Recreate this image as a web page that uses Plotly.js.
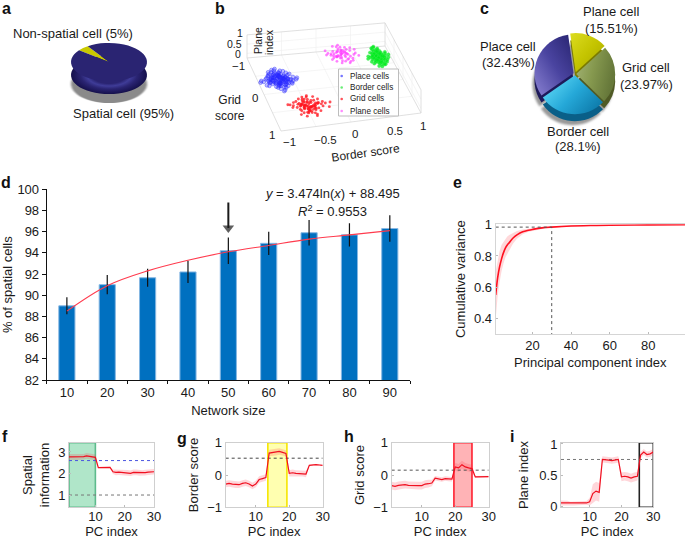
<!DOCTYPE html>
<html><head><meta charset="utf-8">
<script src="https://cdn.plot.ly/plotly-3.0.1.min.js"></script>
<style>html,body{margin:0;padding:0;background:#fff}</style></head>
<body><div id="chart" style="width:685px;height:539px"></div>
<script>
// ---------- panel a / c
const aLabels = ['Non-spatial cell', 'Spatial cell'];
const aValues = [5, 95];
const cLabels = ['Plane cell', 'Grid cell', 'Border cell', 'Place cell'];
const cValues = [15.51, 23.97, 28.1, 32.43];
// ---------- panel b (border score, grid score, plane index)
const placeBorder = [-0.73,-0.70,-0.78,-0.66,-0.82,-0.74,-0.69,-0.76,-0.62,-0.85,-0.72,-0.68,-0.80,-0.75,-0.64,-0.71,-0.88,-0.77,-0.60,-0.83,-0.67,-0.73,-0.79,-0.65,-0.91,-0.70,-0.56,-0.86,-0.74,-0.63,-0.81,-0.69,-0.95,-0.58,-0.76,-0.72,-0.84,-0.61,-0.78,-0.66,-0.89,-0.54,-0.71,-0.93,-0.75,-0.59,-0.82,-0.68,-0.98,-0.52,-0.77,-0.64,-0.87,-0.70,-0.57,-0.80,-0.73,-0.49,-1.0,-0.62,-0.85,-0.67,-0.75,-0.55,-0.90,-0.72,-0.47,-0.79,-0.65,-0.83,
 -0.71,-0.75,-0.68,-0.79,-0.65,-0.73,-0.77,-0.70,-0.63,-0.81,-0.74,-0.67,-0.72,-0.84,-0.60,-0.76,-0.69,-0.78,-0.66,-0.82,-0.71,-0.74,-0.62,-0.86,-0.70,-0.58,-0.77,-0.73,-0.64,-0.80,-0.68,-0.75,-0.61,-0.83,-0.72,-0.79,-0.66,-0.69,-0.57,-0.88];
const placeGrid = [-0.22,-0.28,-0.18,-0.25,-0.30,-0.12,-0.20,-0.34,-0.15,-0.24,-0.38,-0.08,-0.14,-0.26,-0.32,-0.30,-0.19,-0.06,-0.22,-0.40,-0.36,-0.16,-0.44,-0.10,-0.27,-0.02,-0.20,-0.35,-0.48,-0.28,-0.05,-0.42,-0.21,-0.33,0.02,-0.52,-0.13,-0.12,-0.37,-0.46,-0.30,-0.16,0.06,-0.11,-0.41,-0.39,-0.23,0.00,-0.24,-0.26,-0.50,-0.04,-0.17,-0.31,-0.09,-0.29,0.09,-0.19,-0.20,-0.44,-0.36,-0.07,-0.15,-0.35,-0.09,-0.33,-0.23,-0.02,-0.25,-0.45,
 -0.20,-0.26,-0.16,-0.22,-0.30,-0.12,-0.28,-0.34,-0.20,-0.18,-0.14,-0.24,-0.36,-0.26,-0.22,-0.10,-0.18,-0.30,-0.14,-0.22,-0.32,-0.06,-0.28,-0.18,-0.24,-0.20,-0.38,-0.12,-0.16,-0.32,-0.26,-0.08,-0.24,-0.28,-0.34,-0.14,-0.20,-0.40,-0.12,-0.22];
const gridBorder = [-0.52,-0.48,-0.56,-0.44,-0.60,-0.50,-0.46,-0.54,-0.40,-0.63,-0.49,-0.43,-0.58,-0.53,-0.37,-0.47,-0.66,-0.55,-0.35,-0.61,-0.42,-0.51,-0.57,-0.39,-0.70,-0.45,-0.31,-0.64,-0.52,-0.36,-0.59,-0.41,-0.74,-0.28,-0.54,-0.47,-0.62,-0.33,-0.56,-0.43,-0.68,-0.25,-0.50,-0.72,-0.38,-0.22,-0.60,-0.44,-0.77,-0.18,-0.53,-0.34,-0.65,-0.46,-0.30,-0.58,
 -0.50,-0.54,-0.47,-0.57,-0.44,-0.52,-0.49,-0.55,-0.42,-0.59,-0.51,-0.46,-0.56,-0.40,-0.53,-0.48,-0.61,-0.45,-0.38,-0.52,-0.50,-0.57,-0.43,-0.55,-0.47,-0.36,-0.63,-0.49,-0.41,-0.54];
const gridGrid = [0.55,0.50,0.60,0.47,0.52,0.66,0.58,0.44,0.56,0.62,0.70,0.42,0.48,0.53,0.64,0.38,0.56,0.72,0.50,0.46,0.68,0.36,0.59,0.42,0.50,0.76,0.54,0.40,0.62,0.72,0.34,0.58,0.47,0.48,0.74,0.31,0.66,0.40,0.52,0.80,0.42,0.53,0.60,0.55,0.32,0.64,0.72,0.84,0.46,0.52,0.30,0.50,0.76,0.28,0.60,0.82,
 0.56,0.52,0.60,0.48,0.58,0.64,0.44,0.54,0.62,0.50,0.68,0.46,0.56,0.52,0.42,0.60,0.54,0.66,0.50,0.70,0.46,0.62,0.56,0.40,0.58,0.52,0.48,0.74,0.64,0.36];
const planeBorder = [0.20,0.24,0.16,0.28,0.12,0.22,0.18,0.26,0.08,0.31,0.19,0.14,0.27,0.23,0.05,0.34,0.17,0.10,0.29,0.21,0.02,0.37,0.13,0.25,0.07,0.33,-0.01,0.40,0.15,0.30,0.04,0.21,0.36,0.11,0.26,0.43,0.00,0.18,0.32,0.09,0.24,0.41,0.06,0.28,0.16,
 0.19,0.23,0.15,0.26,0.12,0.21,0.17,0.29,0.10,0.24,0.20,0.14,0.27,0.18,0.22];
const planeGrid = [-0.36,-0.30,-0.42,-0.34,-0.28,-0.46,-0.24,-0.38,-0.32,-0.26,-0.50,-0.40,-0.20,-0.54,-0.34,-0.42,-0.16,-0.44,-0.52,-0.14,-0.40,-0.30,-0.58,-0.18,-0.26,-0.20,-0.36,-0.34,-0.10,-0.46,-0.22,-0.60,-0.50,-0.30,-0.08,-0.26,-0.48,-0.56,-0.14,-0.16,-0.44,-0.44,-0.38,-0.12,-0.24,
 -0.33,-0.38,-0.30,-0.41,-0.28,-0.35,-0.44,-0.32,-0.37,-0.26,-0.40,-0.31,-0.36,-0.29,-0.43];
const borderBorder = [0.80,0.78,0.83,0.76,0.84,0.81,0.77,0.79,0.85,0.74,0.82,0.80,0.75,0.87,0.78,0.83,0.72,0.81,0.79,0.86,0.76,0.84,0.71,0.80,0.88,0.77,0.82,0.74,0.85,0.79,0.70,0.83,0.90,0.76,0.81,0.73,0.87,0.78,0.68,0.84,0.91,0.75,0.80,0.72,0.86,0.66,0.82,0.93,0.77,0.69,0.85,0.79,0.95,0.74,0.64,0.88,0.81,0.71,0.83,0.76,0.90,0.78,0.67,0.86,0.80,0.73,0.84,0.92,0.77,0.82,
 0.79,0.81,0.77,0.83,0.75,0.80,0.85,0.78,0.82,0.76,0.84,0.74,0.81,0.79,0.86,0.73,0.80,0.83,0.77,0.78,0.82,0.75,0.85,0.79,0.81,0.76,0.72,0.87,0.80,0.84];
const borderGrid = [-0.60,-0.55,-0.64,-0.58,-0.52,-0.68,-0.62,-0.50,-0.57,-0.65,-0.72,-0.47,-0.60,-0.53,-0.70,-0.44,-0.56,-0.75,-0.48,-0.62,-0.42,-0.66,-0.60,-0.78,-0.54,-0.40,-0.50,-0.70,-0.74,-0.63,-0.52,-0.38,-0.60,-0.80,-0.46,-0.68,-0.45,-0.36,-0.58,-0.82,-0.66,-0.55,-0.72,-0.44,-0.50,-0.62,-0.35,-0.54,-0.76,-0.40,-0.64,-0.86,-0.62,-0.32,-0.55,-0.42,-0.48,-0.72,-0.78,-0.84,-0.48,-0.30,-0.46,-0.70,-0.88,-0.56,-0.35,-0.70,-0.61,-0.52,
 -0.58,-0.62,-0.54,-0.60,-0.66,-0.50,-0.56,-0.64,-0.52,-0.68,-0.59,-0.46,-0.72,-0.54,-0.63,-0.48,-0.57,-0.65,-0.61,-0.44,-0.70,-0.51,-0.60,-0.55,-0.74,-0.49,-0.62,-0.58,-0.42,-0.67];
const planeLevel = 0.8;
const floorLevel = 0;
const legendNames = ['Place cells','Border cells','Grid cells','Plane cells'];
// ---------- panel d
const sizes = ['10','20','30','40','50','60','70','80','90'];
const spatialPct = [89,91,91.65,92.2,94.2,94.9,95.9,95.7,96.3];
const spatialErr = [0.8,0.9,0.85,1.05,1.25,1.1,1.2,1.1,1.25];
const fitPct = [88.5,90.9,92.3,93.3,94.1,94.7,95.3,95.7,96.1];
const arrowPct = [98.75,96.6,96.35];
// ---------- panel e
const pcE = [1,2,3,4,5,6,7,8,10,12,15,18,20,25,30,35,40,50,60,80,99];
const varMean = [.55,.66,.73,.78,.82,.85,.87,.885,.915,.935,.955,.965,.97,.98,.985,.989,.992,.995,.997,.999,1];
const varUp = [.70,.78,.83,.87,.89,.91,.925,.935,.95,.96,.97,.975,.98,.987,.99,.993,.995,.997,.998,.999,1];
const varLow = [.40,.54,.63,.70,.75,.79,.815,.835,.88,.91,.94,.955,.96,.973,.98,.985,.989,.993,.996,.999,1];
const cutPC = 30, cutVar = 0.985;
// ---------- panels f-i
const pc = [1,2,3,4,5,6,7,8,9,10,11,12,13,14,15,16,17,18,19,20,21,22,23,24,25,26,27,28,29,30];
const fMean = [2.77,2.77,2.76,2.76,2.76,2.78,2.82,2.79,2.77,2.75,2.27,2.27,2.27,2.27,2.28,2.08,2.05,2.06,2.05,2.04,2.03,2.01,2.05,2.05,2.03,2.02,2.04,2.06,2.08,2.08];
const fSpread = [.13,.13,.13,.13,.13,.13,.13,.13,.13,.13,.03,.03,.03,.03,.03,.1,.13,.13,.13,.13,.13,.13,.13,.13,.13,.13,.13,.13,.13,.13];
const gMean = [-.28,-.26,-.28,-.30,-.30,-.26,-.24,-.28,-.34,-.28,-.14,-.11,-.08,.68,.70,.70,.73,.70,.67,.05,.07,.05,.05,.05,.03,.30,.32,.32,.31,.30];
const gSpread = [.1,.1,.1,.1,.1,.1,.1,.1,.1,.1,.1,.1,.1,.1,.1,.1,.1,.1,.1,.1,.1,.1,.1,.1,.1,.02,.02,.02,.02,.02];
const hMean = [-.33,-.35,-.32,-.31,-.30,-.32,-.33,-.32,-.33,-.33,-.28,-.27,-.25,-.10,-.13,-.14,-.11,-.12,-.13,.25,.22,.32,.25,.22,.20,-.06,-.06,-.05,-.05,-.05];
const hSpread = [.12,.12,.12,.12,.12,.12,.12,.12,.12,.12,.12,.12,.1,.07,.07,.07,.07,.07,.07,.12,.12,.12,.12,.12,.12,.03,.03,.03,.03,.03];
const iMean = [.05,.05,.045,.04,.04,.04,.045,.045,.05,.07,.20,.24,.22,.75,.75,.74,.73,.74,.75,.47,.48,.47,.45,.47,.48,.82,.87,.83,.84,.87];
const iSpread = [.04,.04,.04,.03,.03,.03,.03,.03,.03,.06,.15,.15,.15,.05,.05,.05,.05,.05,.05,.07,.07,.07,.07,.07,.07,.05,.05,.05,.05,.05];

const W=685,H=539,FF='"Liberation Sans", Arial, sans-serif';
const dx=(a,b)=>[a/W,b/W], dy=(top,bot)=>[1-bot/H,1-top/H];
const traces=[], shapes=[], ann=[];
const T=(x,y,text,o={})=>ann.push(Object.assign({xref:'paper',yref:'paper',x:x/W,y:1-y/H,text,showarrow:false,xanchor:'center',yanchor:'middle',font:{family:FF,size:13,color:'#1a1a1a'}},o));

// ---- pies
const pie=(vals,labs,box,colors,rot,pull)=>({type:'pie',values:vals,labels:labs,sort:false,direction:'clockwise',rotation:rot,pull:pull||0,
  textinfo:'none',hoverinfo:'skip',showlegend:false,domain:{x:dx(box[0],box[2]),y:dy(box[1],box[3])},marker:{colors,line:{width:0}}});
const ra=38, ax0=109, ay0=62;
traces.push(pie(aValues,aLabels,[ax0-ra,ay0+22-ra,ax0+ra,ay0+22+ra],['#8a8a8a','#8a8a8a'],-52));
traces.push(pie(aValues,aLabels,[ax0-ra,ay0+13-ra,ax0+ra,ay0+13+ra],['#1d1860','#1d1860'],-52));
traces.push(pie(aValues,aLabels,[ax0-ra,ay0-ra,ax0+ra,ay0+ra],['#c9c900','#2a2472'],-52));
const cPull=[.05,.03,.03,.04], cr=41, cx0=575, cy0=74;
traces.push(pie(cValues,cLabels,[cx0-2-cr,cy0+11-cr,cx0-2+cr,cy0+11+cr],['#999','#999','#999','#999'],-8,cPull));
traces.push(pie(cValues,cLabels,[cx0-cr,cy0+7-cr,cx0+cr,cy0+7+cr],['#7a7a00','#4f5a25','#0a5f88','#1e1a5a'],-8,cPull));
traces.push(pie(cValues,cLabels,[cx0-cr,cy0-cr,cx0+cr,cy0+cr],['#c9c900','#83964f','#1f9fcf','#3a3590'],-8,cPull));

// ---- panel b
const A=[247,58],B=[385,46],C=[421,113],D=[281,131];
const proj=(b,g,z)=>{const s=(b+1)/2,t=(g+1)/2,
  p=i=>(1-s)*(1-t)*A[i]+s*(1-t)*B[i]+s*t*C[i]+(1-s)*t*D[i];
  return [p(0),p(1)-(z+.25)*18.5];};
const seg=(pts,col,w)=>{const x=[],y=[];pts.forEach(l=>{l.forEach(p=>{const q=proj(...p);x.push(q[0]);y.push(q[1]);});x.push(null);y.push(null);});
  traces.push({type:'scatter',mode:'lines',x,y,xaxis:'x7',yaxis:'y7',hoverinfo:'skip',showlegend:false,line:{color:col,width:w}});};
const floorLines=[],wallLines=[],frame=[];
[-.5,0,.5].forEach(v=>{floorLines.push([[v,-1,-.25],[v,1,-.25]]);floorLines.push([[-1,v,-.25],[1,v,-.25]]);
  wallLines.push([[v,-1,-.25],[v,-1,1]]);wallLines.push([[1,v,-.25],[1,v,1]]);});
[0,.5].forEach(z=>{wallLines.push([[-1,-1,z],[1,-1,z]]);wallLines.push([[1,-1,z],[1,1,z]]);});
frame.push([[-1,-1,1],[-1,-1,-.25],[-1,1,-.25],[1,1,-.25]]);
frame.push([[-1,-1,1],[1,-1,1],[1,1,1],[1,1,-.25]]);
frame.push([[1,-1,1],[1,-1,-.25],[1,1,-.25]]);
frame.push([[-1,-1,-.25],[1,-1,-.25]]);
seg(floorLines,'#f0f0f0',.7); seg(wallLines,'#f0f0f0',.7); seg(frame,'#d8d8d8',.8);
const cloud=(bs,gs,z,name,marker)=>{const P=bs.map((b,i)=>proj(b,gs[i],z));
  traces.push({type:'scatter',mode:'markers',name,x:P.map(p=>p[0]),y:P.map(p=>p[1]),xaxis:'x7',yaxis:'y7',hoverinfo:'skip',showlegend:false,marker});};
cloud(placeBorder,placeGrid,floorLevel,legendNames[0],{size:3.8,color:'rgba(40,40,255,.3)',line:{color:'rgba(40,40,255,.65)',width:.6}});
cloud(borderBorder,borderGrid,floorLevel,legendNames[1],{size:3.4,color:'rgba(0,235,30,.75)',line:{color:'rgba(60,235,80,.6)',width:.5}});
cloud(gridBorder,gridGrid,floorLevel,legendNames[2],{size:2.9,color:'rgba(255,20,30,.75)',line:{width:0}});
cloud(planeBorder,planeGrid,planeLevel,legendNames[3],{size:2.8,color:'rgba(255,60,255,.65)',line:{width:0}});
// legend box, drawn over the floor grid
traces.push({type:'scatter',mode:'lines',x:[338.5,398.5,398.5,338.5,338.5],y:[69,69,116,116,69],xaxis:'x7',yaxis:'y7',fill:'toself',fillcolor:'#fff',line:{color:'#bdbdbd',width:1},hoverinfo:'skip',showlegend:false});
const legY=[76,87.5,99,111], legCol=['rgba(60,60,255,.7)','rgba(40,230,60,.7)','rgba(255,40,50,.8)','rgba(255,90,255,.7)'];
traces.push({type:'scatter',mode:'markers',x:legY.map(()=>341.7),y:legY,xaxis:'x7',yaxis:'y7',hoverinfo:'skip',showlegend:false,marker:{size:2.6,color:legCol}});
legendNames.forEach((n,i)=>T(348,legY[i],n,{xanchor:'left',font:{family:FF,size:8.2,color:'#222'}}));
const bT=(x,y,s,sz)=>T(x,y,s,{font:{family:FF,size:sz||11.5,color:'#1a1a1a'}});
[[289,142,'−1'],[325,139.5,'−0.5'],[355,134.5,'0'],[395,131,'0.5'],[423,126,'1'],[272,135,'1'],[255,98,'0'],[238,66,'−1']].forEach(t=>bT(t[0],t[1],t[2]));
[[240,33,'1'],[234,43.5,'0.5'],[238,54,'0']].forEach(t=>bT(t[0],t[1],t[2],10.5));
T(258,41,'Plane',{textangle:-90,font:{family:FF,size:10.5,color:'#1a1a1a'}});
T(269,42,'index',{textangle:-90,font:{family:FF,size:10.5,color:'#1a1a1a'}});
T(230,108,'Grid<br>score',{font:{family:FF,size:12,color:'#1a1a1a'}});
T(365,152.5,'Border score',{textangle:-8,font:{family:FF,size:12,color:'#1a1a1a'}});

// ---- panel d
traces.push({type:'bar',x:sizes,y:spatialPct,xaxis:'x',yaxis:'y',width:.4,marker:{color:'#0070c0',line:{color:'#86b7e3',width:1}},
  error_y:{type:'data',array:spatialErr,visible:true,color:'#111',thickness:1.2,width:0},hoverinfo:'skip',showlegend:false});
traces.push({type:'scatter',mode:'lines',x:sizes,y:fitPct,xaxis:'x',yaxis:'y',line:{color:'#ff3b4e',width:1.1,shape:'spline'},hoverinfo:'skip',showlegend:false});
traces.push({type:'scatter',mode:'lines+markers',x:['50','50','50'],y:arrowPct,xaxis:'x',yaxis:'y',line:{color:'#1a1a1a',width:2},
  marker:{size:[0,0,10],symbol:'triangle-down',color:'#1a1a1a',line:{width:0}},hoverinfo:'skip',showlegend:false});
T(332,193.5,'<i>y</i> = 3.474ln(<i>x</i>) + 88.495');
T(332,211,'<i>R</i><sup>2</sup> = 0.9553');

// ---- panel e
traces.push({type:'scatter',mode:'lines',x:pcE.concat(pcE.slice().reverse()),y:varUp.concat(varLow.slice().reverse()),xaxis:'x2',yaxis:'y2',fill:'toself',fillcolor:'rgba(255,60,70,.2)',line:{width:0},hoverinfo:'skip',showlegend:false});
traces.push({type:'scatter',mode:'lines',x:pcE,y:varMean,xaxis:'x2',yaxis:'y2',line:{color:'#ff1020',width:1.6,shape:'spline'},hoverinfo:'skip',showlegend:false});
traces.push({type:'scatter',mode:'lines',x:[1,cutPC,cutPC],y:[cutVar,cutVar,.3],xaxis:'x2',yaxis:'y2',line:{color:'#555',width:1,dash:'dot'},hoverinfo:'skip',showlegend:false});

// ---- panels f-i
const panel=(n,mean,spread,refs,rect,rectFill,rectLine)=>{
  shapes.push({type:'rect',xref:'x'+n,yref:'y'+n,x0:rect[0],x1:rect[1],y0:rect[2],y1:rect[3],fillcolor:rectFill,line:{color:rectLine,width:1.6},layer:'below'});
  const up=mean.map((m,i)=>m+spread[i]),lo=mean.map((m,i)=>m-spread[i]);
  traces.push({type:'scatter',mode:'lines',x:pc.concat(pc.slice().reverse()),y:up.concat(lo.reverse()),xaxis:'x'+n,yaxis:'y'+n,fill:'toself',fillcolor:'rgba(255,50,70,.2)',line:{width:0},hoverinfo:'skip',showlegend:false});
  refs.forEach(r=>traces.push({type:'scatter',mode:'lines',x:[1,30],y:[r[0],r[0]],xaxis:'x'+n,yaxis:'y'+n,line:{color:r[1],width:1,dash:'dot'},hoverinfo:'skip',showlegend:false}));
  traces.push({type:'scatter',mode:'lines',x:pc,y:mean,xaxis:'x'+n,yaxis:'y'+n,line:{color:'#f01020',width:1.2},hoverinfo:'skip',showlegend:false});
};
panel(3,fMean,fSpread,[[2.6,'#4a55e0'],[1,'#777']],[1,10,.43,3.43],'#b0e6c9','#5dbb8c');
panel(4,gMean,gSpread,[[.52,'#444']],[13.6,19.3,-1,1],'#ffffb0','#f6e600');
panel(5,hMean,hSpread,[[.15,'#555']],[19.6,25,-1,1],'#ffb3b6','#ff2030');
panel(6,iMean,iSpread,[[.75,'#777']],[25.6,30,-.02,1.02],'rgba(0,0,0,0)','#222');

const axf={family:FF,size:13,color:'#1a1a1a'};
const pcX=(n,a,b)=>({domain:dx(a,b),range:[1,30],anchor:'y'+n,tickvals:[10,20,30],showline:true,mirror:true,linecolor:'#cfcfcf',linewidth:1,ticks:'inside',ticklen:2,tickcolor:'#bbb',showgrid:false,zeroline:false,tickfont:axf,ticklabelstandoff:-3,title:{text:'PC index',font:axf,standoff:10}});
const pcY=(n,r,tv,tt,so)=>({domain:dy(442.7,507.3),range:r,anchor:'x'+n,tickvals:tv,showline:true,mirror:true,linecolor:'#cfcfcf',linewidth:1,ticks:'inside',ticklen:2,tickcolor:'#bbb',showgrid:false,zeroline:false,tickfont:axf,title:{text:tt,font:axf,standoff:so}});

const layout={width:W,height:H,margin:{l:0,r:0,t:0,b:0},paper_bgcolor:'#fff',plot_bgcolor:'rgba(0,0,0,0)',font:{family:FF,size:13},showlegend:false,bargap:.6,hovermode:false,
 xaxis:{domain:dx(46.7,410),anchor:'y',type:'category',categoryorder:'array',categoryarray:sizes,tickson:'boundaries',ticks:'outside',ticklen:3,tickcolor:'#111',showline:true,linecolor:'#111',linewidth:1,showgrid:false,tickfont:axf,title:{text:'Network size',font:axf,standoff:7}},
 yaxis:{domain:dy(189.3,380),anchor:'x',range:[82,100],dtick:2,ticks:'outside',ticklen:4,tickcolor:'#111',showline:true,linecolor:'#111',linewidth:1,showgrid:false,zeroline:false,tickfont:axf,title:{text:'% of spatial cells',font:axf,standoff:6}},
 xaxis2:{domain:dx(495.7,685),anchor:'y2',range:[1,99],tickvals:[20,40,60,80],showline:true,mirror:true,linecolor:'#d5d5d5',ticks:'inside',ticklen:2,tickcolor:'#bbb',showgrid:false,zeroline:false,tickfont:axf,ticklabelstandoff:-1,title:{text:'Principal component index',font:axf,standoff:6}},
 yaxis2:{domain:dy(224.3,334),anchor:'x2',range:[.3,1.003],tickvals:[.4,.6,.8,1],ticktext:['0.4','0.6','0.8','1'],showline:true,mirror:true,linecolor:'#d5d5d5',ticks:'inside',ticklen:2,tickcolor:'#bbb',showgrid:false,zeroline:false,tickfont:axf,title:{text:'Cumulative variance',font:axf,standoff:5}},
 xaxis3:pcX(3,69,154), yaxis3:pcY(3,[.43,3.43],[1,2,3],'Spatial<br>information',5),
 xaxis4:pcX(4,225.7,322.7), yaxis4:pcY(4,[-1,1],[-1,0,1],'Border score',5),
 xaxis5:pcX(5,391.7,488.7), yaxis5:pcY(5,[-1,1],[-1,0,1],'Grid score',5),
 xaxis6:pcX(6,561,653.3), yaxis6:pcY(6,[-.02,1.02],[0,.5,1],'Plane index',7),
 xaxis7:{domain:dx(211,450),range:[211,450],anchor:'y7',visible:false,fixedrange:true},
 yaxis7:{domain:dy(0,165),range:[165,0],anchor:'x7',visible:false,fixedrange:true},
 shapes,annotations:ann};
layout.yaxis6.ticktext=['0','0.5','1'];

// pie texts
T(73,34,'Non-spatial cell (5%)'); T(123,113,'Spatial cell (95%)');
T(611,12,'Plane cell'); T(611,28,'(15.51%)');
T(646,67,'Grid cell'); T(646,84,'(23.97%)');
T(578,131,'Border cell'); T(578,146,'(28.1%)');
T(508,46,'Place cell'); T(508,62,'(32.43%)');
// panel letters
[['a',6,8],['b',220,8],['c',484,8],['d',6,182],['e',457,182],['f',5,436],['g',182,438],['h',349,436],['i',512,436]].forEach(l=>T(l[1],l[2],'<b>'+l[0]+'</b>',{font:{family:FF,size:16,color:'#111'}}));

Plotly.newPlot('chart',traces,layout,{staticPlot:true,displayModeBar:false}).then(()=>{
  const NS='http://www.w3.org/2000/svg', svg=document.querySelector('#chart .main-svg'), defs=svg.querySelector('defs');
  const stopsOf=(g,stops)=>{stops.forEach(st=>{const s=document.createElementNS(NS,'stop');s.setAttribute('offset',st[0]);s.setAttribute('stop-color',st[1]);g.appendChild(s);});defs.appendChild(g);};
  const grad=(id,x1,y1,x2,y2,cols)=>{const g=document.createElementNS(NS,'linearGradient');g.id=id;
    g.setAttribute('x1',x1);g.setAttribute('y1',y1);g.setAttribute('x2',x2);g.setAttribute('y2',y2);
    stopsOf(g,cols.map((c,i)=>[i/(cols.length-1),c]));};
  const f=document.createElementNS(NS,'filter');f.id='softShadow';const b=document.createElementNS(NS,'feGaussianBlur');b.setAttribute('stdDeviation','1.2');f.appendChild(b);defs.appendChild(f);
  const rg=document.createElementNS(NS,'radialGradient');rg.id='gSide';
  stopsOf(rg,[[0,'#2a2472'],[.45,'#2a2472'],[.58,'#3f3c98'],[.74,'#2a2472'],[1,'#15104c']]);
  grad('gPlane',0,0,1,1,['#dcdc20','#c4c400','#a6a600']);
  grad('gGrid',0,0,1,.3,['#a5b578','#86994f','#66783a']);
  grad('gBorder',0,.2,1,.8,['#62dcf8','#25a8d8','#0c78a8']);
  grad('gPlace',0,1,1,0,['#8a82d2','#4a44a0','#27236f']);
  const tr=document.querySelectorAll('#chart .pielayer .trace');
  [[0,84],[1,75],[2,62]].forEach(([i,cy])=>tr[i].setAttribute('transform','translate(0,'+cy+') scale(1,.5) translate(0,'+(-cy)+')'));
  tr[1].querySelectorAll('path.surface').forEach(p=>p.style.fill='url(#gSide)');
  tr[0].style.filter='url(#softShadow)'; tr[3].style.filter='url(#softShadow)';
  const ids=['gPlane','gGrid','gBorder','gPlace'];
  tr[5].querySelectorAll('path.surface').forEach((p,i)=>p.style.fill='url(#'+ids[i]+')');
});
</script></body></html>
